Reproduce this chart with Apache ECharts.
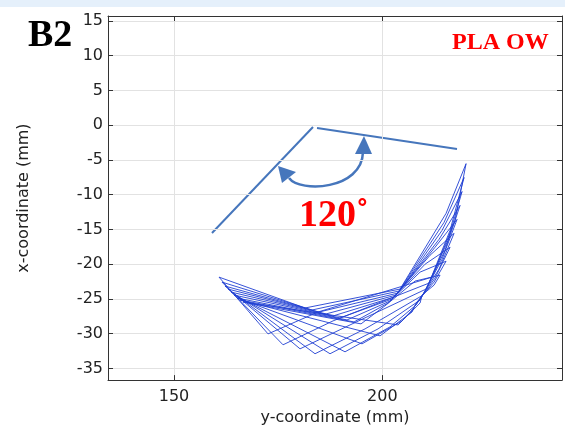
<!DOCTYPE html>
<html>
<head>
<meta charset="utf-8">
<script src="https://cdn.jsdelivr.net/npm/echarts@6/dist/echarts.min.js"></script>
<style>
  html, body { margin: 0; padding: 0; background: #fff; }
  #band { position: absolute; left: 0; top: 0; width: 565px; height: 7px; background: #e5f0fb; }
  #chart { width: 565px; height: 431px; }
</style>
</head>
<body>
<div id="band"></div>
<div id="chart"></div>
<script>
// nine trajectory loops, one entry per loop in each array (y-coordinate, x-coordinate in mm)
// path: leftTip -> bottom -> lowerBend -> lowerEntry -> lowerBand -> rightTip -> upperBand -> upperEntry -> middle -> leftTip
const leftTip = [[160.80, -21.86], [161.52, -22.58], [162.24, -23.15], [162.96, -23.58], [163.68, -24.01], [164.40, -24.44], [165.12, -24.87], [165.84, -25.15], [166.56, -25.44]]
const bottom = [[172.56, -30.03], [176.16, -31.60], [180.24, -32.18], [183.84, -32.89], [187.44, -32.89], [191.04, -32.61], [195.12, -31.46], [199.44, -30.31], [203.76, -28.74]]
const lowerBend = [[184.56, -26.88], [188.16, -28.16], [192.24, -28.74], [195.84, -29.31], [198.96, -29.31], [201.84, -29.02], [204.72, -28.16], [207.12, -26.88], [209.04, -25.59]]
const lowerEntry = [[211.92, -21.86], [211.20, -22.72], [210.48, -23.58], [209.76, -24.44], [209.04, -25.16], [208.08, -25.87], [207.12, -26.59], [208.08, -25.59], [209.52, -24.44]]
const lowerBand = [[217.44, -13.69], [216.24, -15.13], [215.76, -16.56], [215.04, -17.99], [214.32, -19.28], [213.60, -20.71], [212.64, -22.00], [212.40, -22.58], [212.40, -23.01]]
const rightTip = [[220.08, -5.53], [219.60, -7.53], [219.12, -9.54], [218.64, -11.54], [217.92, -13.55], [217.20, -15.56], [216.24, -17.56], [215.28, -19.57], [213.84, -21.57]]
const upperBand = [[215.28, -12.69], [214.80, -13.98], [214.32, -15.13], [213.60, -16.42], [212.64, -17.56], [211.44, -18.71], [210.24, -20.00], [209.04, -21.14], [207.84, -22.43]]
const upperEntry = [[204.24, -23.58], [204.00, -23.86], [203.76, -24.15], [203.28, -24.44], [202.80, -24.73], [202.32, -25.01], [201.84, -25.30], [201.36, -25.59], [200.88, -25.87]]
const middle = [[181.44, -26.30], [183.12, -26.59], [184.80, -26.88], [186.48, -27.16], [188.16, -27.45], [189.84, -27.73], [191.52, -28.02], [193.20, -28.31], [194.88, -28.59]]

const xMin = 134.16
const xMax = 243.1
const yMin = -36.68
const yMax = 15.72

const chart = echarts.init(document.getElementById('chart'), null, { renderer: 'canvas' })

const tickFont = { fontSize: 16, color: '#222', fontFamily: 'DejaVu Sans' }
const frameLine = { show: true, onZero: false, lineStyle: { color: '#333' } }
const frameTick = { show: true, inside: true, length: 5, lineStyle: { color: '#333' } }

const loops = leftTip.map((p, i) => {
  return {
    type: 'line',
    showSymbol: false,
    silent: true,
    lineStyle: { color: '#2040d2', width: 0.9 },
    data: [p, bottom[i], lowerBend[i], lowerEntry[i], lowerBand[i], rightTip[i], upperBand[i], upperEntry[i], middle[i], p]
  }
})

chart.setOption({
  animation: false,
  backgroundColor: 'transparent',
  grid: { left: 108, top: 16, right: 3, bottom: 50 },
  xAxis: [{
    type: 'value',
    min: xMin,
    max: xMax,
    splitNumber: 2,
    name: 'y-coordinate (mm)',
    nameLocation: 'middle',
    nameGap: 27,
    nameTextStyle: tickFont,
    axisLine: frameLine,
    axisTick: frameTick,
    axisLabel: Object.assign({ showMinLabel: false, showMaxLabel: false, margin: 9 }, tickFont),
    splitLine: { show: true, lineStyle: { color: '#e2e2e2' } }
  }, {
    type: 'value',
    position: 'top',
    min: xMin,
    max: xMax,
    splitNumber: 2,
    axisLine: frameLine,
    axisTick: frameTick,
    axisLabel: { show: false },
    splitLine: { show: false }
  }],
  yAxis: [{
    type: 'value',
    min: yMin,
    max: yMax,
    splitNumber: 10,
    name: 'x-coordinate (mm)',
    nameLocation: 'middle',
    nameGap: 76,
    nameTextStyle: tickFont,
    axisLine: frameLine,
    axisTick: frameTick,
    axisLabel: Object.assign({ showMinLabel: false, showMaxLabel: false, margin: 5 }, tickFont),
    splitLine: { show: true, lineStyle: { color: '#e2e2e2' } }
  }, {
    type: 'value',
    position: 'right',
    min: yMin,
    max: yMax,
    splitNumber: 10,
    axisLine: frameLine,
    axisTick: frameTick,
    axisLabel: { show: false },
    splitLine: { show: false }
  }],
  graphic: [
    { type: 'text', left: 28, top: 17, style: { text: 'B2', font: 'bold 38px "Liberation Serif"', fill: '#000' } },
    { type: 'text', left: 452, top: 31, style: { text: 'PLA OW', font: 'bold 24px "Liberation Serif"', fill: '#ff0000' } },
    { type: 'text', left: 299, top: 197, style: { text: '120˚', font: 'bold 38px "Liberation Serif"', fill: '#ff0000' } },
    // angle sides
    { type: 'line', shape: { x1: 212, y1: 233, x2: 313, y2: 127 }, style: { stroke: '#4676bc', lineWidth: 2 } },
    { type: 'line', shape: { x1: 317, y1: 128, x2: 457, y2: 149 }, style: { stroke: '#4676bc', lineWidth: 2 } },
    // double-headed arc
    { type: 'bezierCurve', shape: { x1: 289, y1: 178, cpx1: 300, cpy1: 193, cpx2: 362, cpy2: 190, x2: 363, y2: 152 }, style: { stroke: '#4676bc', lineWidth: 2.5, fill: null } },
    { type: 'polygon', shape: { points: [[278, 166], [282, 183], [296, 172]] }, style: { fill: '#4676bc' } },
    { type: 'polygon', shape: { points: [[364, 136], [355, 154], [372, 154]] }, style: { fill: '#4676bc' } }
  ],
  series: loops
})
</script>
</body>
</html>
